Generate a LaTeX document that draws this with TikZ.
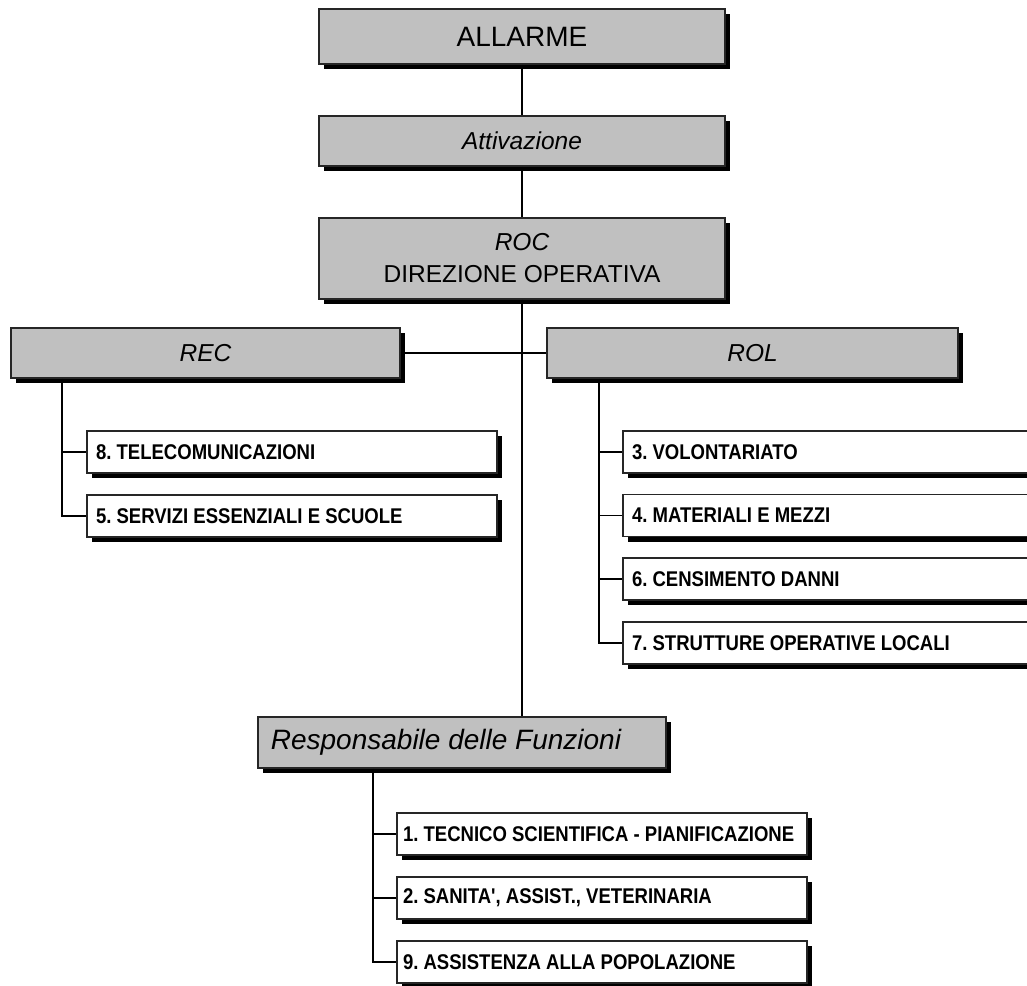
\documentclass[tikz,border=0pt]{standalone}
\usepackage{fontspec}
\newfontfamily\arial{Liberation Sans}
\newfontfamily\arialn{Liberation Sans}[FakeStretch=0.87]
\usetikzlibrary{shadows}
\definecolor{boxgray}{HTML}{C0C0C0}
\frenchspacing
\tikzset{
  shad/.style={drop shadow={shadow xshift=5pt, shadow yshift=-5pt, opacity=1, fill=black}},
  graybox/.style={draw=black!85, line width=1.2pt, fill=boxgray, shad, inner sep=0pt, align=center, font=\arial\fontsize{24.5}{32}\selectfont},
  funbox/.style={draw=black!85, line width=1.2pt, fill=white, shad, inner xsep=9pt, inner ysep=0pt, minimum height=42pt, align=flush left, font=\arialn\bfseries\fontsize{21.3}{26}\selectfont},
  conn/.style={line width=1.5pt, black}
}
\begin{document}
\begin{tikzpicture}[x=1pt,y=-1pt]
\useasboundingbox (0,0) rectangle (1027,985);
\clip (0,0) rectangle (1027,985);
% main column
\node[graybox, minimum width=406pt, minimum height=55pt, font=\arial\fontsize{28}{32}\selectfont] (allarme) at (522,36.5) {ALLARME};
\node[graybox, minimum width=406pt, minimum height=50pt] (attiv) at (522,141) {\itshape Attivazione};
\node[graybox, minimum width=406pt, minimum height=81pt] (roc) at (522,258.5) {\itshape ROC\\DIREZIONE OPERATIVA};
\node[graybox, minimum width=389pt, minimum height=50pt] (rec) at (205.5,353) {\itshape REC};
\node[graybox, minimum width=411pt, minimum height=50pt] (rol) at (752.5,353) {\itshape ROL};
\node[graybox, minimum width=408pt, minimum height=51pt] (resp) at (462,742.5) {\hspace*{-32pt}\fontsize{28}{32}\selectfont\itshape Responsabile delle Funzioni};
% REC functions
\node[funbox, text width=392pt] (f8) at (292,452) {8. TELECOMUNICAZIONI};
\node[funbox, text width=392pt] (f5) at (292,516) {5. SERVIZI ESSENZIALI E SCUOLE};
% ROL functions
\node[funbox, text width=412pt] (f3) at (838,452) {3. VOLONTARIATO};
\node[funbox, text width=412pt] (f4) at (838,515.5) {4. MATERIALI E MEZZI};
\node[funbox, text width=412pt] (f6) at (838,579) {6. CENSIMENTO DANNI};
\node[funbox, text width=412pt] (f7) at (838,643) {7. STRUTTURE OPERATIVE LOCALI};
% Responsabile functions
\node[funbox, inner xsep=6pt, text width=398pt] (f1) at (602,834) {1. TECNICO SCIENTIFICA - PIANIFICAZIONE};
\node[funbox, inner xsep=6pt, text width=398pt] (f2) at (602,898) {2. SANITA', ASSIST., VETERINARIA};
\node[funbox, inner xsep=6pt, text width=398pt] (f9) at (602,962) {9. ASSISTENZA ALLA POPOLAZIONE};
% branch coordinates
\coordinate (recx) at (62,0);
\coordinate (rolx) at (599,0);
\coordinate (respx) at (373,0);
% connectors
\draw[conn] (allarme.south) -- (attiv.north);
\draw[conn] (attiv.south) -- (roc.north);
\draw[conn] (rec.east) -- (rol.west);
\draw[conn] (roc.south) -- (roc.south |- resp.north);
\draw[conn] (rec.south -| recx) -- (recx |- f5.west) -- (f5.west);
\draw[conn] (recx |- f8.west) -- (f8.west);
\draw[conn] (rol.south -| rolx) -- (rolx |- f7.west) -- (f7.west);
\draw[conn] (rolx |- f3.west) -- (f3.west);
\draw[conn] (rolx |- f4.west) -- (f4.west);
\draw[conn] (rolx |- f6.west) -- (f6.west);
\draw[conn] (resp.south -| respx) -- (respx |- f9.west) -- (f9.west);
\draw[conn] (respx |- f1.west) -- (f1.west);
\draw[conn] (respx |- f2.west) -- (f2.west);
\end{tikzpicture}
\end{document}
